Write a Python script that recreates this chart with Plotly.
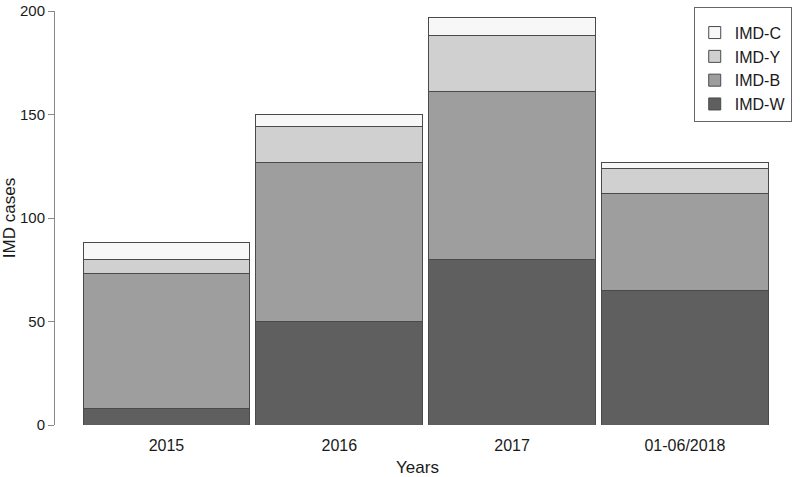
import plotly.graph_objects as go

categories = ["2015", "2016", "2017", "01-06/2018"]
imd_w = [8, 50, 80, 65]
imd_b = [65, 77, 81, 47]
imd_y = [7, 17, 27, 12]
imd_c = [8, 6, 9, 3]

series = [
    ("IMD-W", imd_w, "#5f5f5f"),
    ("IMD-B", imd_b, "#9e9e9e"),
    ("IMD-Y", imd_y, "#d0d0d0"),
    ("IMD-C", imd_c, "#f7f7f7"),
]

FONT = "Liberation Sans, Arial, Helvetica, sans-serif"

fig = go.Figure()
for name, vals, col in series:
    fig.add_trace(go.Bar(
        x=list(range(len(categories))), y=vals, name=name,
        marker=dict(color=col, line=dict(color="#4a4a4a", width=1)),
    ))

fig.update_layout(
    width=800, height=477,
    barmode="stack", bargap=0.035,
    plot_bgcolor="white", paper_bgcolor="white",
    margin=dict(l=55, r=20, t=11, b=52, autoexpand=False),
    font=dict(family=FONT, size=15, color="#1a1a1a"),
    showlegend=True,
    legend=dict(
        x=0.881, y=1.01, xanchor="left", yanchor="top",
        traceorder="reversed",
        bordercolor="#666", borderwidth=1,
        bgcolor="white",
        font=dict(size=16),
        itemwidth=30,
        title=dict(text=" ", font=dict(size=6)),
        tracegroupgap=0,
    ),
    xaxis=dict(
        range=[-0.645, 3.55], automargin=True,
        tickmode="array", tickvals=list(range(len(categories))), ticktext=categories,
        showline=False, showgrid=False, zeroline=False, ticks="",
        ticklabelstandoff=9,
        title=dict(text="Years", standoff=10, font=dict(size=17)),
        tickfont=dict(size=16),
    ),
    yaxis=dict(
        range=[0, 200], tickvals=[0, 50, 100, 150, 200], automargin=True,
        showline=True, linecolor="#888", linewidth=1,
        ticks="outside", ticklen=6, tickcolor="#888",
        ticklabeloverflow="allow",
        showgrid=False, zeroline=False,
        title=dict(text="IMD cases", standoff=4, font=dict(size=17)),
        tickfont=dict(size=15),
    ),
)

fig.write_html("out.html", config={"displayModeBar": False},
               post_script="document.body.style.margin='0px';")
